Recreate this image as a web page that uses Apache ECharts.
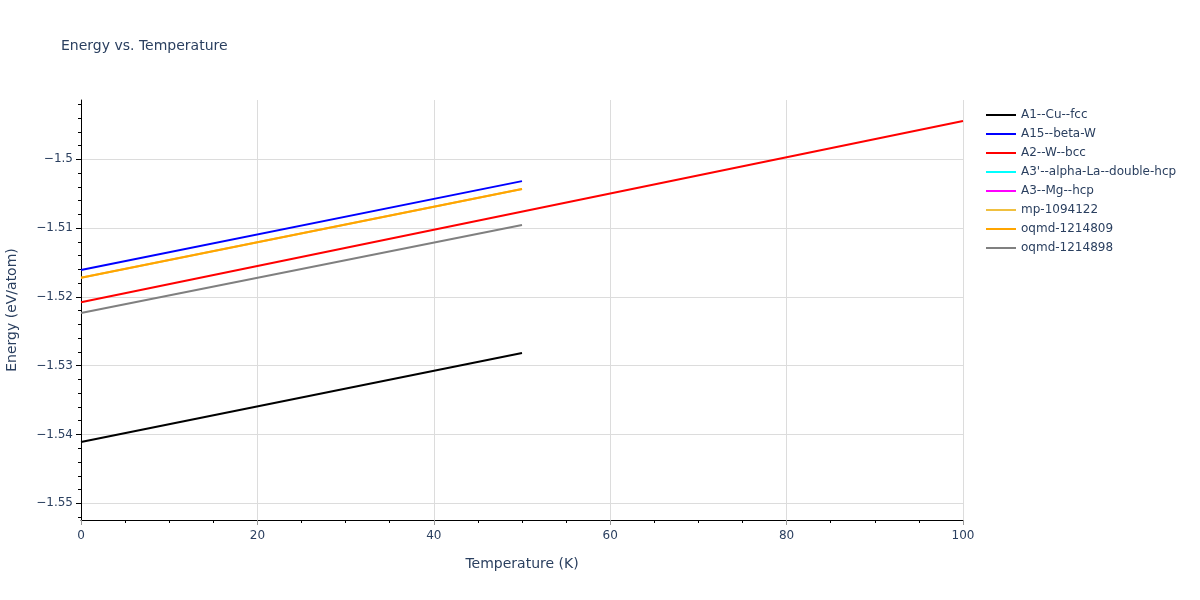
<!DOCTYPE html>
<html><head><meta charset="utf-8">
<script src="https://cdn.jsdelivr.net/npm/echarts@6/dist/echarts.min.js"></script>
<style>html,body{margin:0;padding:0;background:#fff}#c{width:1200px;height:600px}</style>
</head><body><div id="c"></div>
<script>
const seriesNames = ["A1--Cu--fcc","A15--beta-W","A2--W--bcc","A3'--alpha-La--double-hcp","A3--Mg--hcp","mp-1094122","oqmd-1214809","oqmd-1214898"];
const seriesColors = ["#000000","#0000ff","#ff0000","#00ffff","#ff00ff","#f0c040","#ffa500","#808080"];
const tempA1 = [0, 50];
const energyA1 = [-1.54109, -1.52815];
const tempA15 = [0, 50];
const energyA15 = [-1.51609, -1.50317];
const tempA2 = [0, 100];
const energyA2 = [-1.52078, -1.49443];
const tempA3p = [];
const energyA3p = [];
const tempA3 = [];
const energyA3 = [];
const tempMp = [0, 50];
const energyMp = [-1.51721, -1.50432];
const tempOq809 = [0, 50];
const energyOq809 = [-1.51721, -1.50432];
const tempOq898 = [0, 50];
const energyOq898 = [-1.52234, -1.50955];
const yTicks = [-1.55, -1.54, -1.53, -1.52, -1.51, -1.5];
const yMinorTicks = [-1.552,-1.548,-1.546,-1.544,-1.542,-1.538,-1.536,-1.534,-1.532,-1.528,-1.526,-1.524,-1.522,-1.518,-1.516,-1.514,-1.512,-1.508,-1.506,-1.504,-1.502,-1.498,-1.496,-1.494,-1.492];
const xTicks = [0, 20, 40, 60, 80, 100];

const temps = [tempA1,tempA15,tempA2,tempA3p,tempA3,tempMp,tempOq809,tempOq898];
const energies = [energyA1,energyA15,energyA2,energyA3p,energyA3,energyMp,energyOq809,energyOq898];
const FONT = '"DejaVu Sans", Verdana, sans-serif';
const TXT = '#2a3f5f';
const fmt = v => String(+v.toFixed(3)).replace('-', '\u2212');
const yMin = -1.55243, yMax = -1.49138;

const chart = echarts.init(document.getElementById('c'));
chart.setOption({
  animation: false,
  textStyle: {fontFamily: FONT},
  title: {text: 'Energy vs. Temperature', left: 56, top: 34,
    textStyle: {fontFamily: FONT, fontSize: 14, fontWeight: 'normal', color: TXT}},
  legend: {orient: 'vertical', left: 981, top: 104, itemWidth: 30, itemHeight: 2, itemGap: 7,
    icon: 'rect', data: seriesNames,
    textStyle: {fontFamily: FONT, fontSize: 12, color: TXT}},
  grid: {left: 81, right: 237, top: 100, bottom: 80, containLabel: false, outerBoundsMode: 'none'},
  xAxis: {type: 'value', min: 0, max: 100, interval: 20,
    name: 'Temperature (K)', nameLocation: 'middle', nameGap: 37,
    nameTextStyle: {fontFamily: FONT, fontSize: 14, color: TXT},
    axisLine: {show: true, onZero: false, lineStyle: {color: '#000', width: 1}},
    axisTick: {show: true, length: 5, lineStyle: {color: '#999'}},
    minorTick: {show: true, splitNumber: 4, length: 3, lineStyle: {color: '#000'}},
    axisLabel: {color: TXT, fontSize: 12, margin: 10, fontFamily: FONT, formatter: v => fmt(v)},
    splitLine: {show: true, lineStyle: {color: '#dcdcdc', width: 1}}},
  yAxis: [{type: 'value', min: yMin, max: yMax,
    name: 'Energy (eV/atom)', nameLocation: 'middle', nameGap: 62,
    nameTextStyle: {fontFamily: FONT, fontSize: 14, color: TXT},
    axisLine: {show: true, onZero: false, lineStyle: {color: '#000', width: 1}},
    axisTick: {show: true, length: 5, customValues: yTicks, lineStyle: {color: '#000'}},
    axisLabel: {color: TXT, fontSize: 12, margin: 8, fontFamily: FONT, customValues: yTicks, formatter: v => fmt(v)},
    splitLine: {show: true, lineStyle: {color: '#dcdcdc', width: 1}}},
   {type: 'value', min: yMin, max: yMax, position: 'left', offset: 0,
    axisLine: {show: false},
    axisTick: {show: true, length: 3, customValues: yMinorTicks, lineStyle: {color: '#000'}},
    axisLabel: {show: false, customValues: yMinorTicks},
    splitLine: {show: false}}],
  series: seriesNames.map((n, i) => ({
    name: n, type: 'line', showSymbol: false, symbol: 'none',
    color: seriesColors[i],
    lineStyle: {width: 2, color: seriesColors[i]},
    data: temps[i].map((t, j) => [t, energies[i][j]]),
    z: 2 + i
  }))
});
</script></body></html>
